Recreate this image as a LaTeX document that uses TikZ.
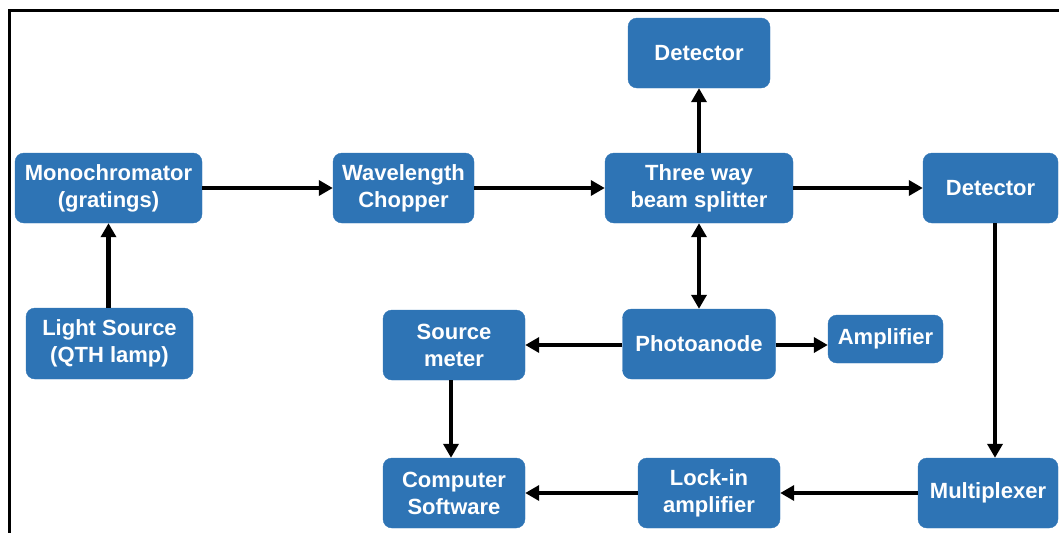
\documentclass[tikz,border=0pt]{standalone}
\usepackage{fontspec}
\setmainfont{Liberation Sans}
\usepackage{xcolor}
\usetikzlibrary{arrows.meta, positioning}
\definecolor{boxblue}{RGB}{46,116,181}

\begin{document}
\begin{tikzpicture}[
    x=1pt, y=-1pt,
    >={Triangle[length=14pt, width=15pt]},
    blockbox/.style={draw=boxblue, fill=boxblue, rounded corners=9pt, text=white, align=center,
        inner sep=2pt, font=\bfseries\fontsize{22}{27}\selectfont},
    flow/.style={->, line width=4.5pt},
]
    \useasboundingbox (0,0) rectangle (1059,533);
    % frame
    \draw[line width=3pt] (1059,10.5) -- (9,10.5) -- (9,533);

    % top row
    \node[blockbox, minimum width=187pt, minimum height=70pt] (mono) at (108.5,188) {Monochromator\\(gratings)};
    \node[blockbox, minimum width=141pt, minimum height=70pt] (chopper) at (403.5,188) {Wavelength\\Chopper};
    \node[blockbox, minimum width=188pt, minimum height=70pt] (split) at (699,188) {Three way\\beam splitter};
    \node[blockbox, minimum width=142pt, minimum height=70pt] (dettop) at (699,53) {Detector};
    \node[blockbox, minimum width=135pt, minimum height=70pt] (detright) at (990.5,188) {Detector};

    % middle row
    \node[blockbox, minimum width=167pt, minimum height=71pt] (light) at (109.5,343.5) {Light Source\\(QTH lamp)};
    \node[blockbox, minimum width=142pt, minimum height=70pt] (smeter) at (454,345) {Source\\meter};
    \node[blockbox, minimum width=153pt, minimum height=70pt] (photo) at (699,344) {Photoanode};
    \node[blockbox, minimum width=115pt, minimum height=48pt] (amp) at (885.5,339) {Amplifier};

    % bottom row
    \node[blockbox, minimum width=142pt, minimum height=70pt] (comp) at (454,493) {Computer\\Software};
    \node[blockbox, minimum width=142pt, minimum height=70pt] (lockin) at (709,493) {Lock-in\\amplifier};
    \node[blockbox, minimum width=140pt, minimum height=70pt] (mux) at (988,493) {Multiplexer};

    \coordinate (muxline) at (995,0);

    % connectors
    \draw[flow] (light.north -| 108.5,0) -- (mono);
    \draw[flow] (mono) -- (chopper);
    \draw[flow] (chopper) -- (split);
    \draw[flow] (split) -- (dettop);
    \draw[flow] (split) -- (detright);
    \draw[flow, <->] (split) -- (photo);
    \draw[flow] (photo.west |- 0,345) -- (smeter.east |- 0,345);
    \draw[flow] (photo.east |- 0,345) -- (amp.west |- 0,345);
    \draw[flow] (smeter.south -| 451,0) -- (comp.north -| 451,0);
    \draw[flow] (detright.south -| muxline) -- (mux.north -| muxline);
    \draw[flow] (mux) -- (lockin);
    \draw[flow] (lockin) -- (comp);
\end{tikzpicture}
\end{document}
